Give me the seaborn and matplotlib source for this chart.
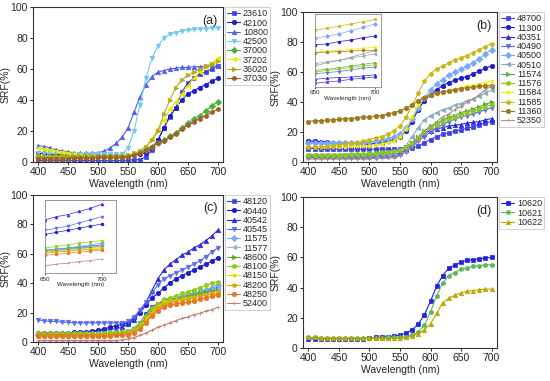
import numpy as np
import pandas as pd
import matplotlib
matplotlib.use("Agg")
import matplotlib.pyplot as plt
import seaborn as sns

# wavelength grid (nm), 400..700 step 10
WAVELENGTH = list(range(400, 701, 10))

# panel (a)
SRF_A = {
    "23610": [1, 1, 1, 1, 1, 1, 1, 1, 1, 1, 1, 1, 1, 1, 1, 1, 1.5, 1.5, 3.5, 8, 14, 22, 29, 35, 45, 51, 54, 57, 58, 60, 62],
    "42100": [5.5, 5.5, 5, 5, 4.5, 4.5, 4.5, 4, 4, 4, 4, 4, 4, 4, 4, 4, 4.5, 5, 6, 9, 14, 22, 30, 35, 40, 44, 46, 48, 50, 52, 54],
    "10800": [10.5, 10, 9, 8, 7, 6.5, 6, 5.5, 5.5, 5.5, 6, 7, 9, 12, 16, 22, 32, 42, 50, 55, 58, 59, 60, 60.5, 61, 61, 61.5, 61.5, 62, 62, 62],
    "42500": [6, 6, 5.5, 5.5, 5.5, 5, 5, 5, 5, 5, 5, 5, 5, 5, 5, 9, 20, 37, 54, 67, 75, 80, 82.5, 83.5, 84.5, 85, 85.5, 86, 86, 86.5, 86.5],
    "37000": [3.5, 3.5, 3.5, 3.5, 3.5, 3.5, 3.5, 3.5, 3.5, 3.5, 3.5, 3.5, 3.5, 3.5, 3.5, 4, 5, 6.5, 8, 10, 12, 14, 16.5, 19, 22, 25, 27.5, 30, 33, 36, 39],
    "37202": [9, 8.5, 8, 7, 6.5, 6, 5, 4.5, 4, 4, 3.5, 3.5, 3.5, 3.5, 4, 4, 5, 7, 10, 15, 21, 27, 34, 39, 44, 49, 54, 58, 61, 64, 67],
    "36020": [4, 4, 4, 4, 4, 4, 4, 4, 4, 4, 4, 4, 4, 4, 4, 4.5, 5.5, 7, 10, 14, 20, 31, 40, 48, 53, 56, 58, 60, 62, 63, 65],
    "37030": [2, 2, 2, 2, 2, 2, 2.5, 2.5, 2.5, 2.5, 3, 3, 3, 3, 3, 3.5, 4.5, 6, 8, 10, 12, 13.5, 16, 18, 21, 24, 26, 28, 30, 32, 34],
}
COLORS_A = ["#4040e8", "#1c1cd4", "#4f5ff0", "#6cc8f0", "#4caf3a", "#e8e800", "#b8a818", "#a0602a"]
MARKERS_A = ["s", "o", "^", "v", "D", "<", ">", "h"]

# panel (b)
SRF_B = {
    "48700": [9, 9, 8.5, 8.5, 8.5, 8.5, 8.5, 8.5, 8.5, 8.5, 8.5, 8.5, 8.5, 8.5, 8.5, 8.5, 9, 9.5, 10.5, 13, 15, 17, 18.5, 19.5, 20.5, 21.5, 22.5, 23.5, 25, 26, 27],
    "11300": [14, 14, 13.5, 13.5, 13, 13, 13, 12.5, 12.5, 12, 12, 12.5, 13, 14, 15, 17, 21, 27, 35, 41, 45, 48, 51, 53, 54.5, 56, 57, 59, 60.5, 62.5, 64],
    "40351": [4, 4, 4, 4, 4, 4, 4, 4, 4, 4, 4, 4, 4.5, 4.5, 5, 6, 8, 12, 16, 19, 21, 22, 23, 24, 24.5, 25, 26, 26.5, 27, 28, 29],
    "40490": [3, 3, 3, 3, 3, 3, 3, 3, 3, 3, 3, 3, 3.5, 3.5, 4, 5, 7, 10, 14, 17, 20, 23, 25, 27, 28.5, 30, 31, 32, 33.5, 35, 36],
    "40500": [13, 13, 13, 13, 13, 13, 13, 13, 13, 13, 13.5, 14, 14.5, 15.5, 17, 19, 23, 29, 36, 43, 48, 52, 55, 58, 60, 62, 64, 66, 69, 72, 75],
    "40510": [5, 5, 5, 5, 5, 5, 5, 5, 5, 5, 5, 5, 5.5, 5.5, 6, 8, 11, 17, 23, 28, 31, 33, 35, 36, 38, 39, 41, 42, 44, 46, 48],
    "11574": [4, 4, 4, 4, 4, 4, 4.5, 4.5, 4.5, 5, 5, 5.5, 6, 6.5, 7, 8, 10, 13, 17, 21, 24, 26, 28, 30, 31, 33, 34, 35.5, 37, 38.5, 40],
    "11576": [5, 5, 5, 5, 5, 5, 5, 5.5, 5.5, 5.5, 6, 6, 6.5, 7, 7.5, 8, 10, 13, 16, 20, 23, 25, 27, 29, 30, 31.5, 33, 34, 35.5, 37, 38],
    "11584": [10, 10, 10, 10, 10, 10, 10, 10.5, 10.5, 10.5, 11, 11.5, 12, 13, 14, 17, 22, 30, 38, 43, 44.5, 45.5, 46.5, 47.5, 48.5, 49.5, 50.5, 51, 52, 53, 54],
    "11585": [10, 10, 10, 10.5, 11, 11.5, 12, 12.5, 13, 14, 15, 16, 17, 18.5, 21, 24, 30, 38, 46, 54, 59, 62, 64, 66, 68, 69.5, 71, 73, 75, 77, 79],
    "11360": [27, 27.5, 27.5, 28, 28, 28.5, 29, 29, 29.5, 30, 30, 30.5, 31, 32, 33, 34, 36, 38, 41, 43, 45, 46, 47, 47.5, 48, 49, 49.5, 50, 50.5, 51, 51],
    "52350": [2, 2, 2, 2, 2, 2, 2, 2, 2, 2, 2, 2.5, 2.5, 2.5, 3, 4, 7, 11, 15, 19, 23, 27, 30, 32, 35, 37, 40, 42, 45, 48, 51],
}
COLORS_B = ["#4040e8", "#1c1cd4", "#2a2ae0", "#5a6af0", "#7aa8f8", "#80b0c0",
            "#5cb040", "#8cc820", "#f0f000", "#c8b810", "#a07820", "#b09080"]
MARKERS_B = ["s", "o", "^", "v", "D", "<", ">", "h", "*", "p", "o", "+"]

# panel (c)
SRF_C = {
    "48120": [5, 5, 5, 5, 5, 5, 5, 5, 5, 5, 5, 5, 5, 5.5, 6, 7, 9, 13, 19, 24, 26, 28, 29, 30, 31, 32, 33, 34, 35, 36, 37],
    "40440": [6, 6, 6, 6, 6, 6, 6.5, 6.5, 7, 7.5, 8, 9, 10, 11, 12, 13, 16, 20, 25, 30, 33, 37, 40, 43, 45, 47, 49, 51, 53, 55, 57],
    "40542": [6, 6, 6, 6, 6, 6, 6.5, 6.5, 7, 7, 7.5, 8, 8.5, 9, 10, 12, 15, 21, 27, 35, 43, 49, 53, 56, 59, 61, 64, 66, 69, 72, 76],
    "40545": [15, 14.5, 14, 14, 13.5, 13.5, 13, 13, 13, 13, 13, 13, 13, 13, 13, 14, 17, 22, 27, 33, 39, 43, 45, 47, 49, 51, 53, 55, 58, 61, 64],
    "11575": [5, 5, 5, 5, 5, 5, 5, 5, 5, 5, 5, 5.5, 5.5, 6, 6.5, 7, 9, 12, 16, 21, 24, 26, 28, 29, 31, 32, 33, 34, 35.5, 37, 39],
    "11577": [4, 4, 4, 4, 4, 4, 4, 4, 4, 4, 4, 4.5, 4.5, 5, 5.5, 6, 8, 11, 15, 20, 23, 25, 26.5, 28, 29, 30, 31, 32, 33, 34.5, 36],
    "48600": [5, 5, 5, 5, 5, 5, 5, 5, 5, 5, 5, 5.5, 5.5, 6, 6.5, 7.5, 9, 12, 16, 21, 25, 27, 28, 29, 30, 31, 32, 33, 34, 35, 35],
    "48100": [6, 6, 6, 6, 6, 6, 6, 6, 6, 6, 6, 6, 6.5, 6.5, 6.5, 7, 9, 13, 18, 23, 26, 29, 30, 31.5, 33, 34, 35.5, 37, 38.5, 40, 41],
    "48150": [4, 4, 4, 4, 4, 4, 4, 4, 4, 4, 4, 4.5, 4.5, 5, 5, 6, 7, 10, 15, 20, 24, 27, 28, 28.5, 29, 30, 30.5, 31, 32, 33, 34],
    "48200": [4.5, 4.5, 4.5, 4.5, 4.5, 4.5, 4.5, 4.5, 4.5, 4.5, 4.5, 4.5, 5, 5, 5, 6, 7, 10, 14, 19, 23, 26, 27, 28, 28.5, 29, 30, 31, 32, 32.5, 33],
    "48250": [4, 4, 4, 4, 4, 4, 4, 4, 4, 4, 4, 4, 4, 4.5, 4.5, 5, 6, 9, 13, 18, 21, 24, 25, 26, 26.5, 27, 28, 29, 30, 31, 32],
    "52400": [1, 1, 1, 1, 1, 1, 1, 1, 1, 1, 1, 1, 1, 1, 1.5, 2, 3, 4.5, 6, 8, 10, 11.5, 13, 14.5, 16, 17, 18.5, 19.5, 21, 22, 23.5],
}
COLORS_C = ["#4040e8", "#1c1cd4", "#2a2ae0", "#5a6af0", "#7aa8f8", "#90b8c8",
            "#66aa33", "#90cc10", "#f8d000", "#e0a800", "#e87820", "#c87870"]
MARKERS_C = ["s", "o", "^", "v", "D", "<", ">", "h", "*", "p", "o", "+"]

# panel (d)
SRF_D = {
    "10620": [6, 6, 6, 6, 6, 6, 6, 6, 6, 6, 6.5, 7, 7, 7.5, 8, 8.5, 10, 12, 16, 22, 31, 41, 48, 53, 55, 57, 58, 58.5, 59, 59.5, 60],
    "10621": [7, 7, 6.5, 6.5, 6.5, 6.5, 6.5, 6.5, 6.5, 6.5, 6.5, 6.5, 6.5, 7, 7, 7, 7.5, 8.5, 10.5, 15, 24, 34.5, 43, 48, 50, 52, 53, 54, 54.5, 55, 55],
    "10622": [7, 7, 6.5, 6.5, 6.5, 6.5, 6.5, 6.5, 6.5, 6.5, 6.5, 6.5, 6.5, 6.5, 6.5, 6.5, 7, 8, 9.5, 12, 16, 23, 30, 33, 35, 36.5, 37.5, 38, 38.5, 39, 39],
}
COLORS_D = ["#2020e8", "#5cb85c", "#b8a800"]
MARKERS_D = ["s", "h", "^"]

sns.set_style("ticks")
plt.rcParams["font.family"] = ["Liberation Sans", "DejaVu Sans"]


def draw_series(ax, data, colors, markers, ms=3.2, lw=0.8, legend=True):
    for (name, vals), c, m in zip(data.items(), colors, markers):
        sns.lineplot(x=WAVELENGTH, y=vals, ax=ax, color=c, marker=m,
                     markersize=ms, markeredgecolor=c, markeredgewidth=0.5,
                     linewidth=lw, label=name if legend else None, legend=False)


def style_main(ax, letter):
    ax.set_xlim(391, 709)
    ax.set_ylim(0, 100)
    ax.set_xticks([400, 450, 500, 550, 600, 650, 700])
    ax.set_yticks([0, 20, 40, 60, 80, 100])
    ax.set_xlabel("Wavelength (nm)", fontsize=7.5, labelpad=1)
    ax.set_ylabel("SRF(%)", fontsize=7.5, labelpad=0)
    ax.tick_params(labelsize=7.5, length=2.5, width=0.7, pad=1.2)
    for s in ax.spines.values():
        s.set_visible(True)
        s.set_linewidth(0.8)
        s.set_color("#333333")
    ax.text(0.97, 0.95, letter, transform=ax.transAxes, ha="right", va="top", fontsize=9)
    leg = ax.legend(loc="upper left", bbox_to_anchor=(1.01, 1.0), borderaxespad=0,
                    fontsize=6.5, handlelength=1.45, handletextpad=0.3, labelspacing=0.03,
                    borderpad=0.25, frameon=True, fancybox=False)
    leg.get_frame().set_edgecolor("#bbbbbb")
    leg.get_frame().set_linewidth(0.6)


def add_inset(ax, rect, data, colors, markers, xlim, ylim):
    ins = ax.inset_axes(rect)
    draw_series(ins, data, colors, markers, ms=2.0, lw=0.5, legend=False)
    ins.set_xlim(*xlim)
    ins.set_ylim(*ylim)
    ins.set_xticks([650, 700])
    ins.set_yticks([])
    ins.set_xlabel("Wavelength (nm)", fontsize=4.5, labelpad=0.5)
    ins.set_ylabel("")
    ins.tick_params(labelsize=4.5, length=1.5, width=0.5, pad=1)
    for s in ins.spines.values():
        s.set_visible(True)
        s.set_linewidth(0.6)
        s.set_color("#888888")


fig = plt.figure(figsize=(5.5, 3.81), dpi=100)
W, H = 550, 381


def px_axes(left, top, right, bottom):
    return fig.add_axes([left / W, 1 - bottom / H, (right - left) / W, (bottom - top) / H])


ax_a = px_axes(33, 7, 223, 162)
ax_b = px_axes(303, 12, 497, 162)
ax_c = px_axes(33, 195, 223, 342)
ax_d = px_axes(303, 197, 497, 348)

draw_series(ax_a, SRF_A, COLORS_A, MARKERS_A)
style_main(ax_a, "(a)")

draw_series(ax_b, SRF_B, COLORS_B, MARKERS_B)
style_main(ax_b, "(b)")
add_inset(ax_b, [0.062, 0.5, 0.338, 0.487], SRF_B, COLORS_B, MARKERS_B, (650, 704.5), (18, 84))

draw_series(ax_c, SRF_C, COLORS_C, MARKERS_C)
style_main(ax_c, "(c)")
add_inset(ax_c, [0.063, 0.469, 0.374, 0.497], SRF_C, COLORS_C, MARKERS_C, (650, 712.5), (10, 80))

draw_series(ax_d, SRF_D, COLORS_D, MARKERS_D)
style_main(ax_d, "(d)")

fig.savefig("out.png", dpi=100)
plt.close(fig)
